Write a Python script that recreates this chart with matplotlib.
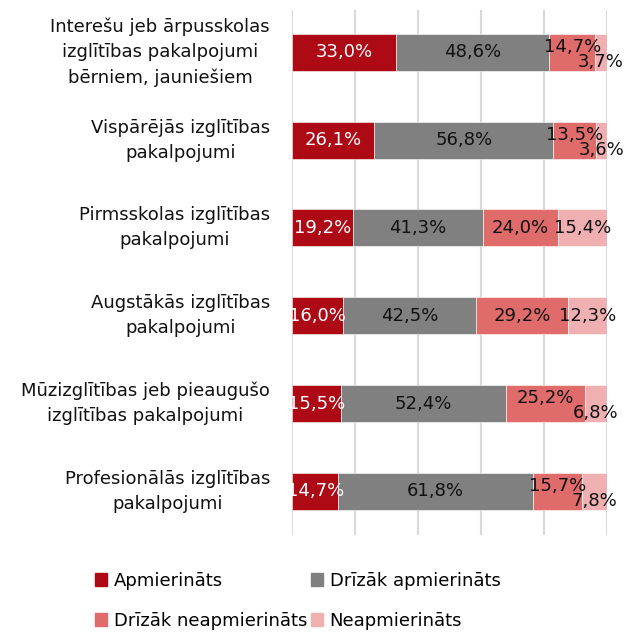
import numpy as np
import matplotlib

matplotlib.use("Agg")
import matplotlib.pyplot as plt
from matplotlib.patches import Patch

plt.rcParams["font.family"] = ["DejaVu Sans"]

categories = [
    "Interešu jeb ārpusskolas\nizglītības pakalpojumi\nbērniem, jauniešiem",
    "Vispārējās izglītības\npakalpojumi",
    "Pirmsskolas izglītības\npakalpojumi",
    "Augstākās izglītības\npakalpojumi",
    "Mūzizglītības jeb pieaugušo\nizglītības pakalpojumi",
    "Profesionālās izglītības\npakalpojumi",
]
series_names = ["Apmierināts", "Drīzāk apmierināts",
                "Drīzāk neapmierināts", "Neapmierināts"]
apmierinats = [33.0, 26.1, 19.2, 16.0, 15.5, 14.7]
drizak_apm = [48.6, 56.8, 41.3, 42.5, 52.4, 61.8]
drizak_neapm = [14.7, 13.5, 24.0, 29.2, 25.2, 15.7]
neapmierinats = [3.7, 3.6, 15.4, 12.3, 6.8, 7.8]

series = [apmierinats, drizak_apm, drizak_neapm, neapmierinats]
colors = ["#AE0A16", "#808080", "#E06B6B", "#F0B0B2"]
text_colors = ["white", "#111111", "#111111", "#111111"]
FS = 13

fig = plt.figure(figsize=(6.27, 6.32), dpi=100)
ax = fig.add_axes([0.466, 0.153, 0.502, 0.831])

y = np.arange(len(categories))
left = np.zeros(len(categories))
for i, (vals, col) in enumerate(zip(series, colors)):
    vals = np.array(vals)
    ax.barh(y, vals, left=left, height=0.42, color=col,
            edgecolor="white", linewidth=0.4, zorder=3)
    for j, v in enumerate(vals):
        dy = 0.0
        # small last segments: labels pushed apart vertically
        if neapmierinats[j] < 10 and i == 2:
            dy = -0.06
        elif neapmierinats[j] < 10 and i == 3:
            dy = 0.11
        ax.text(left[j] + v / 2, y[j] + dy, f"{v:.1f}%".replace(".", ","),
                ha="center", va="center", color=text_colors[i],
                fontsize=FS, zorder=4)
    left += vals

ax.set_xlim(0, 100)
ax.set_ylim(5.5, -0.48)
ax.set_xticks(np.arange(0, 101, 20))
ax.xaxis.grid(True, color="#D9D9D9", lw=1.5, zorder=0)
ax.tick_params(axis="x", length=0, labelbottom=False)
ax.tick_params(axis="y", length=0, pad=16)
ax.set_yticks(y)
ax.set_yticklabels(categories, fontsize=FS, color="#111111")
for t in ax.get_yticklabels():
    t.set_multialignment("center")
    t.set_verticalalignment("center")
    t.set_linespacing(1.5)
for s in ax.spines.values():
    s.set_visible(False)

handles = [Patch(color=c) for c in colors]
order = [0, 2, 1, 3]
fig.legend([handles[k] for k in order], [series_names[k] for k in order],
           ncol=2, loc="lower left", bbox_to_anchor=(0.125, -0.022),
           frameon=False, fontsize=FS, handlelength=0.7, handleheight=0.7,
           handletextpad=0.35, columnspacing=0.2, labelspacing=1.2)

fig.savefig("out.png", dpi=100)
